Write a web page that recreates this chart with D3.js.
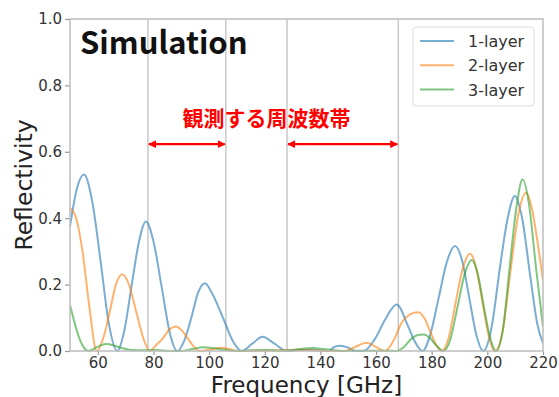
<!DOCTYPE html>
<html>
<head>
<meta charset="utf-8">
<script src="https://cdn.jsdelivr.net/npm/d3@7"></script>
<style>
  body { margin: 0; background: #fff; }
  text { font-family: "DejaVu Sans", sans-serif; }
</style>
</head>
<body>
<div id="chart"></div>
<script>
// reflectivity, [GHz, value]
const layer1 = [[50,0.375],[52.5,0.49],[55,0.532],[58,0.45],[61,0.27],[64,0.08],[67,0],
  [69.5,0.06],[72.2,0.2],[74.8,0.33],[77.3,0.39],[80,0.33],[83,0.19],[86,0.05],[88.6,0],
  [91,0.03],[93.6,0.1],[96,0.175],[98.5,0.204],[101,0.175],[105,0.1],[108.5,0.03],[111.7,0],
  [115.5,0.022],[119.2,0.043],[123.5,0.022],[127.9,0],[132,0.003],[136,0.004],[140,0.002],
  [142.7,0],[145,0.012],[147,0.016],[150,0.01],[152.4,0],[155.5,0],[159.5,0.035],[163.3,0.095],
  [167.4,0.14],[171.5,0.075],[173.8,0.03],[176.7,0],[179.5,0.05],[182.5,0.16],[185.5,0.27],
  [188.4,0.316],[191,0.27],[193.5,0.16],[196,0.05],[198.6,0],[201.5,0.07],[204.5,0.25],
  [207.3,0.4],[209.9,0.467],[212.5,0.4],[215.5,0.22],[218,0.08],[220,0.023]];

const layer2 = [[50,0.43],[52,0.405],[54.5,0.3],[57,0.13],[59.6,0],[62,0.04],[64.2,0.115],
  [66.5,0.2],[68.8,0.231],[71.2,0.2],[73.9,0.115],[76.5,0.035],[78.6,0],[81,0.018],[83.3,0.037],
  [85.6,0.064],[88,0.074],[90.2,0.062],[92.4,0.037],[94.6,0.012],[96.7,0],[100.6,0.005],
  [104.5,0.01],[107.5,0.005],[110.4,0],[125,0.002],[135,0.003],[142,0],[148.5,0],[152.5,0.012],
  [156.6,0.025],[160,0.012],[163.2,0],[166.2,0.03],[169.2,0.085],[172.2,0.11],[175.2,0.117],
  [177.3,0.1],[179.4,0.06],[181.5,0.02],[183.6,0],[186.1,0.04],[188.7,0.15],[191.2,0.25],
  [193.8,0.294],[196,0.25],[198.2,0.15],[200.5,0.045],[202.7,0],[205.5,0.06],[208.3,0.24],
  [211.1,0.41],[213.9,0.477],[216,0.43],[218,0.33],[220,0.214]];

const layer3 = [[50,0.139],[51.5,0.09],[53.5,0.035],[55,0.01],[56.6,0],[58.8,0.008],[61,0.017],
  [63.2,0.021],[66,0.016],[69,0.008],[72,0.003],[76,0.002],[80,0.003],[84,0.001],[90,0],
  [94,0.006],[97.8,0.011],[102,0.008],[106,0.003],[110,0],[115,0.002],[120,0.003],[125,0.001],
  [130,0.003],[133.5,0.007],[137.5,0.009],[141,0.006],[145,0.002],[148,0],[155,0.001],
  [160,0.001],[164,0.001],[167.4,0],[170,0.012],[172.5,0.035],[175,0.048],[177.2,0.05],
  [179.5,0.038],[181.8,0.015],[184.2,0],[186.7,0.035],[189.2,0.13],[191.8,0.23],[194.4,0.274],
  [196.6,0.23],[198.8,0.13],[201,0.04],[203.1,0],[205.5,0.06],[208,0.25],[210.4,0.43],
  [212.7,0.517],[215,0.44],[217.5,0.25],[220,0.073]];

const seriesNames = ["1-layer", "2-layer", "3-layer"];
const seriesColors = ["#1f77b4", "#ff7f0e", "#2ca02c"];
const xTicks = [60, 80, 100, 120, 140, 160, 180, 200, 220];
const yTicks = [0, 0.2, 0.4, 0.6, 0.8, 1.0];
const bandEdges = [78, 106, 128, 168];
const bands = [[78, 106], [128, 168]];
const arrowLevel = 0.623;

const margin = {top: 19, right: 16, bottom: 46, left: 70};
const width = 559, height = 397;
const w = width - margin.left - margin.right;
const h = height - margin.top - margin.bottom;

const svg = d3.select("#chart").append("svg")
    .attr("width", width)
    .attr("height", height);

const defs = svg.append("defs");
defs.append("marker")
    .attr("id", "head")
    .attr("viewBox", "0 0 10 10")
    .attr("refX", 9).attr("refY", 5)
    .attr("markerWidth", 3.6).attr("markerHeight", 3.6)
    .attr("orient", "auto-start-reverse")
    .append("path")
    .attr("d", "M0,0 L10,5 L0,10 z")
    .attr("fill", "#ff0000");

const g = svg.append("g")
    .attr("transform", `translate(${margin.left},${margin.top})`);

const x = d3.scaleLinear().domain([50, 220]).range([0, w]);
const y = d3.scaleLinear().domain([0, 1]).range([h, 0]);

// vertical lines at band edges
g.selectAll(".edge")
    .data(bandEdges)
    .enter().append("line")
    .attr("class", "edge")
    .attr("x1", d => x(d)).attr("x2", d => x(d))
    .attr("y1", 0).attr("y2", h)
    .attr("stroke", "#c8c8c8")
    .attr("stroke-width", 1.5);

// curves
const line = d3.line()
    .x(d => x(d[0]))
    .y(d => y(d[1]))
    .curve(d3.curveMonotoneX);

const clip = defs.append("clipPath").attr("id", "plotclip");
clip.append("rect").attr("width", w).attr("height", h + 2).attr("y", -1);

g.append("g").attr("clip-path", "url(#plotclip)")
    .selectAll(".curve")
    .data([layer1, layer2, layer3])
    .enter().append("path")
    .attr("class", "curve")
    .attr("d", line)
    .attr("fill", "none")
    .attr("stroke", (d, i) => seriesColors[i])
    .attr("stroke-opacity", 0.6)
    .attr("stroke-width", 2);

// axes
const xAxis = g.append("g")
    .attr("transform", `translate(0,${h})`)
    .call(d3.axisBottom(x).tickValues(xTicks).tickSize(4).tickSizeOuter(0).tickPadding(2));
const yAxis = g.append("g")
    .call(d3.axisLeft(y).tickValues(yTicks).tickFormat(d3.format(".1f")).tickSize(5).tickSizeOuter(0).tickPadding(3));

[xAxis, yAxis].forEach(a => {
    a.select(".domain").remove();
    a.selectAll(".tick line").attr("stroke", "#999").attr("stroke-width", 1.2);
    a.selectAll(".tick text")
        .attr("fill", "#333")
        .style("font-family", "DejaVu Sans")
        .style("font-size", "15px");
});

// frame
g.append("rect")
    .attr("width", w).attr("height", h)
    .attr("fill", "none")
    .attr("stroke", "#bdbdbd")
    .attr("stroke-width", 1.5);

// band arrows
g.selectAll(".arrow")
    .data(bands)
    .enter().append("line")
    .attr("class", "arrow")
    .attr("x1", d => x(d[0]) + 1).attr("x2", d => x(d[1]) - 1)
    .attr("y1", y(arrowLevel)).attr("y2", y(arrowLevel))
    .attr("stroke", "#ff0000")
    .attr("stroke-width", 2.2)
    .attr("marker-start", "url(#head)")
    .attr("marker-end", "url(#head)");

g.append("text")
    .attr("x", x(120.6))
    .attr("y", 107)
    .attr("text-anchor", "middle")
    .style("font-family", "Noto Sans CJK JP")
    .style("font-weight", "bold")
    .style("font-size", "21px")
    .attr("fill", "#ff0000")
    .text("観測する周波数帯");

g.append("text")
    .attr("x", 10)
    .attr("y", 35)
    .style("font-family", "Noto Sans CJK JP")
    .style("font-weight", "bold")
    .style("font-size", "31px")
    .attr("fill", "#111")
    .text("Simulation");

// axis titles
svg.append("text")
    .attr("x", margin.left + w / 2)
    .attr("y", 393)
    .attr("text-anchor", "middle")
    .style("font-size", "23px")
    .attr("fill", "#222")
    .text("Frequency [GHz]");

svg.append("text")
    .attr("transform", `translate(32,${margin.top + h / 2}) rotate(-90)`)
    .attr("text-anchor", "middle")
    .style("font-size", "23.5px")
    .attr("fill", "#222")
    .text("Reflectivity");

// legend
const legend = g.append("g").attr("transform", `translate(${w - 130},8)`);
legend.append("rect")
    .attr("width", 121).attr("height", 79)
    .attr("rx", 3)
    .attr("fill", "#fff")
    .attr("fill-opacity", 0.8)
    .attr("stroke", "#dcdcdc");
seriesNames.forEach((name, i) => {
    const row = legend.append("g").attr("transform", `translate(0,${14 + i * 24.3})`);
    row.append("line")
        .attr("x1", 7).attr("x2", 41)
        .attr("stroke", seriesColors[i])
        .attr("stroke-opacity", 0.6)
        .attr("stroke-width", 2);
    row.append("text")
        .attr("x", 55).attr("y", 6)
        .style("font-size", "16px")
        .attr("fill", "#333")
        .text(name);
});
</script>
</body>
</html>
